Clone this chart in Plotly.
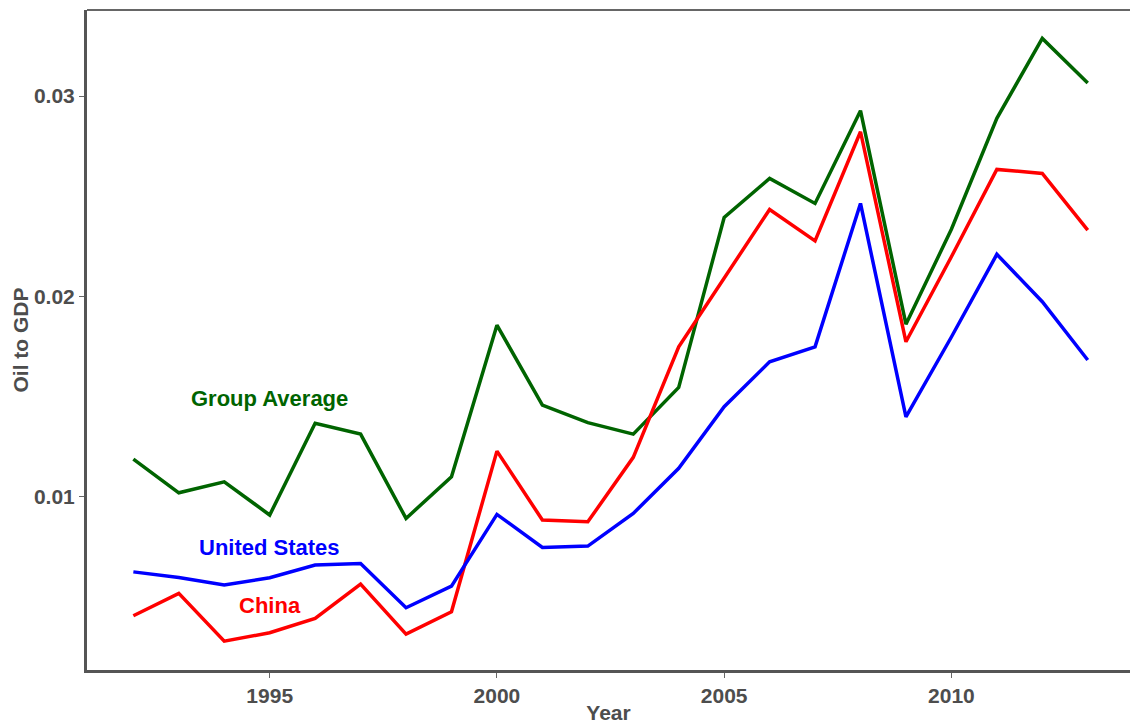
import plotly.graph_objects as go

years = list(range(1992, 2014))
group_average = [0.01187, 0.01019, 0.01074, 0.00908, 0.01366, 0.01312, 0.00891, 0.01099,
                 0.01856, 0.01457, 0.01369, 0.01312, 0.01545, 0.02394, 0.02589, 0.02464,
                 0.02927, 0.01861, 0.02335, 0.02889, 0.03288, 0.03066]
china = [0.00405, 0.00517, 0.00278, 0.00320, 0.00392, 0.00563, 0.00313, 0.00425,
         0.01227, 0.00883, 0.00874, 0.01196, 0.01748, 0.02090, 0.02434, 0.02277,
         0.02822, 0.01773, 0.02198, 0.02634, 0.02614, 0.02331]
united_states = [0.00624, 0.00596, 0.00558, 0.00595, 0.00658, 0.00666, 0.00445, 0.00553,
                 0.00911, 0.00746, 0.00753, 0.00916, 0.01141, 0.01449, 0.01673, 0.01748,
                 0.02464, 0.01398, 0.01797, 0.02210, 0.01973, 0.01682]

x_ticks = [1995, 2000, 2005, 2010]
y_ticks = [0.01, 0.02, 0.03]
y_tick_labels = ["0.01", "0.02", "0.03"]

FONT = "Liberation Sans, Arial, sans-serif"
GREY = "#4D4D4D"

fig = go.Figure()
series = [
    ("Group Average", group_average, "#006400"),
    ("China", china, "#FF0000"),
    ("United States", united_states, "#0000FF"),
]
for name, vals, col in series:
    fig.add_trace(go.Scatter(x=years, y=vals, mode="lines", name=name,
                             line=dict(color=col, width=3.5), showlegend=False))

labels = [
    ("Group Average", 1995, 0.01492, "#006400"),
    ("United States", 1995, 0.00748, "#0000FF"),
    ("China", 1995, 0.00458, "#FF0000"),
]
for text, xx, yy, col in labels:
    fig.add_annotation(x=xx, y=yy, text="<b>%s</b>" % text, showarrow=False,
                       font=dict(family=FONT, size=22, color=col),
                       xanchor="center", yanchor="middle")

fig.add_shape(type="line", xref="paper", yref="paper", x0=0, x1=1, y0=1, y1=1,
              line=dict(color="#666666", width=2))

fig.update_layout(
    width=1130, height=726,
    margin=dict(l=87, r=0, t=10, b=56),
    paper_bgcolor="white", plot_bgcolor="white",
    font=dict(family=FONT, color=GREY),
    xaxis=dict(range=[1990.98, 2013.93], tickvals=x_ticks, showgrid=False, zeroline=False,
               showline=True, linecolor="#555555", linewidth=3,
               ticks="outside", ticklen=5, tickwidth=1, tickcolor="#666666",
               tickfont=dict(family=FONT, size=21, color=GREY, weight="bold"),
               title=dict(text="<b>Year</b>", font=dict(family=FONT, size=21, color=GREY), standoff=0)),
    yaxis=dict(range=[0.00134, 0.0343], tickvals=y_ticks, ticktext=y_tick_labels,
               showgrid=False, zeroline=False,
               showline=True, linecolor="#555555", linewidth=3,
               ticks="outside", ticklen=5, tickwidth=1, tickcolor="#666666",
               tickfont=dict(family=FONT, size=21, color=GREY, weight="bold"),
               title=dict(text="<b>Oil to GDP</b>", font=dict(family=FONT, size=21, color=GREY), standoff=0)),
)

fig.write_html("out.html", config={"displayModeBar": False},
               post_script="document.body.style.margin='0';")
